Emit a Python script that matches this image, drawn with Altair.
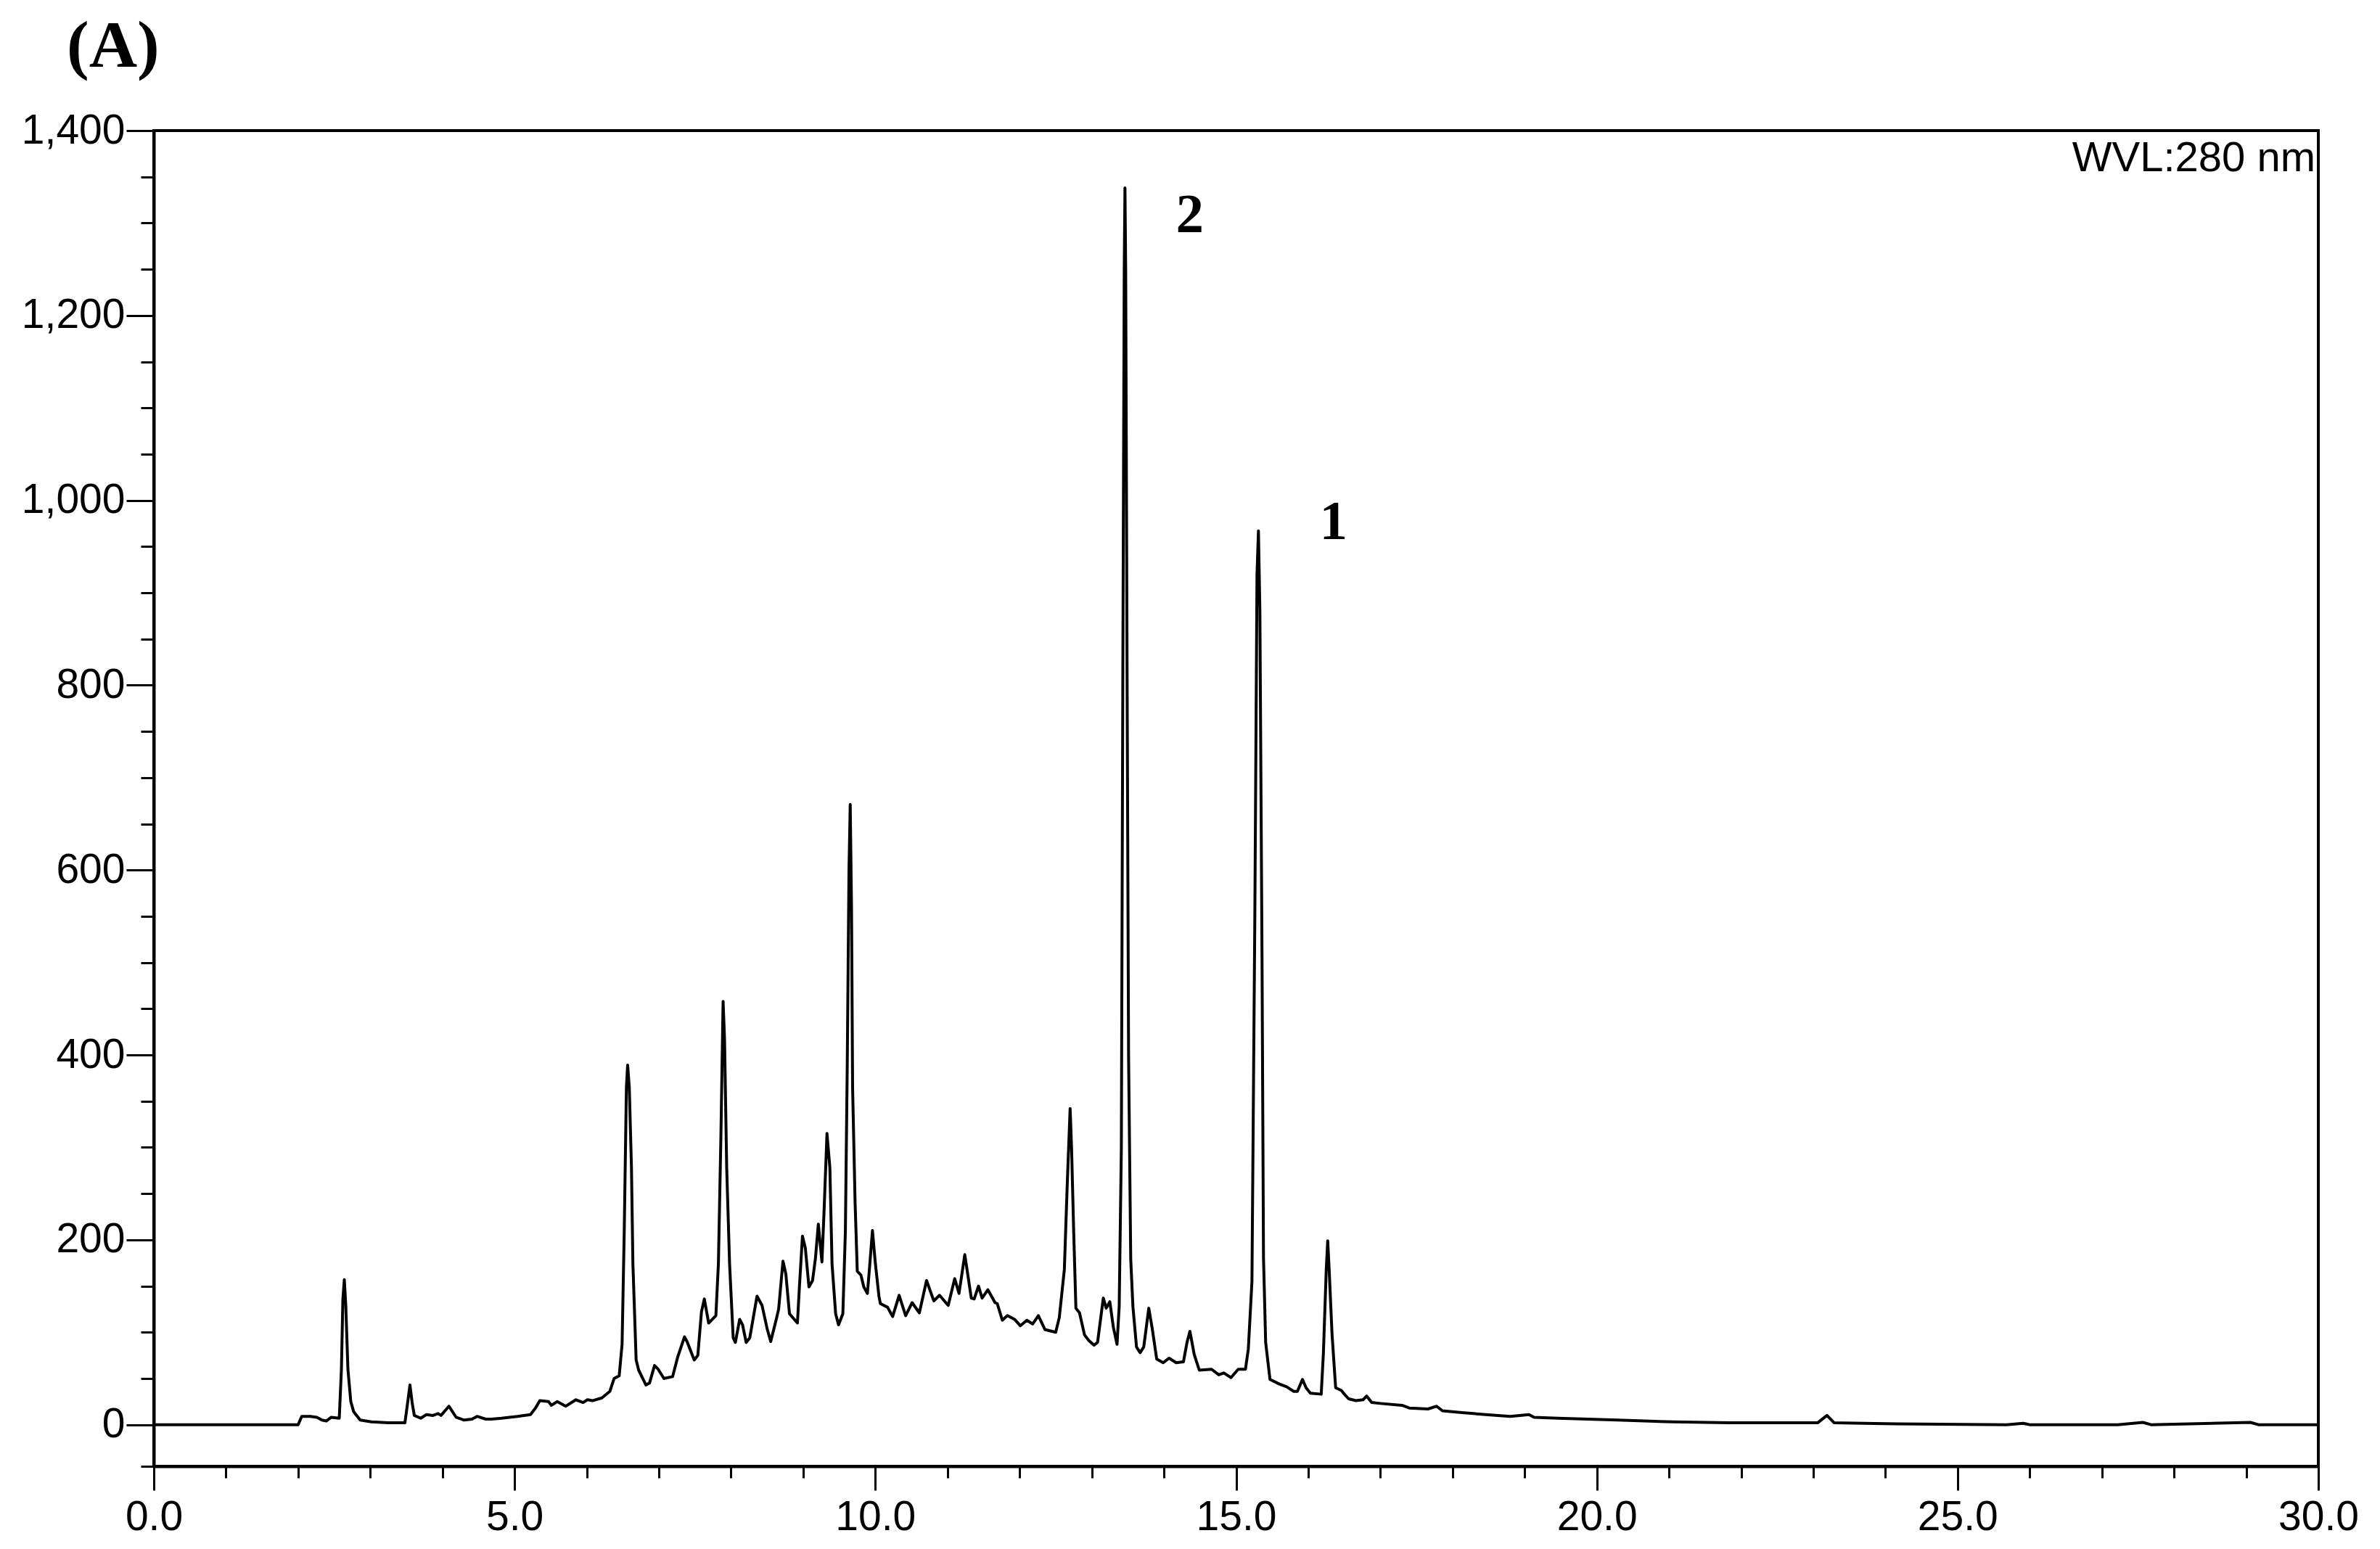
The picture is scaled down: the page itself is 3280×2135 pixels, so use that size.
import altair as alt
import pandas as pd

# Chromatogram trace (retention time in min, signal in mAU)
time_min = [
    0.00, 2.00, 2.05, 2.17, 2.26, 2.33, 2.39, 2.46, 2.57, 2.60, 2.62, 2.64, 2.66, 2.69, 2.73, 2.77, 2.86,
    3.02, 3.25, 3.48, 3.52, 3.55, 3.58, 3.61, 3.70, 3.78, 3.87, 3.94, 3.98, 4.09, 4.19, 4.30, 4.41, 4.48,
    4.60, 4.68, 4.82, 5.04, 5.22, 5.29, 5.35, 5.47, 5.51, 5.59, 5.71, 5.85, 5.95, 6.01, 6.08, 6.21, 6.32,
    6.38, 6.45, 6.49, 6.52, 6.55, 6.567, 6.59, 6.62, 6.64, 6.685, 6.72, 6.82, 6.87, 6.94, 6.99, 7.07, 7.19,
    7.26, 7.355, 7.39, 7.49, 7.54, 7.59, 7.63, 7.69, 7.79, 7.825, 7.86, 7.89, 7.91, 7.94, 7.98, 8.03, 8.06,
    8.12, 8.16, 8.21, 8.26, 8.36, 8.43, 8.50, 8.55, 8.63, 8.66, 8.72, 8.76, 8.81, 8.92, 8.95, 8.99, 9.03,
    9.08, 9.13, 9.17, 9.21, 9.26, 9.29, 9.33, 9.37, 9.40, 9.45, 9.49, 9.55, 9.585, 9.61, 9.635, 9.652,
    9.67, 9.685, 9.72, 9.75, 9.80, 9.84, 9.89, 9.92, 9.96, 10.00, 10.05, 10.07, 10.17, 10.24, 10.33,
    10.42, 10.51, 10.61, 10.71, 10.81, 10.89, 11.01, 11.10, 11.16, 11.24, 11.33, 11.37, 11.43, 11.48,
    11.56, 11.66, 11.69, 11.76, 11.83, 11.93, 12.01, 12.10, 12.18, 12.26, 12.35, 12.50, 12.55, 12.62,
    12.66, 12.70, 12.72, 12.75, 12.78, 12.83, 12.90, 12.96, 13.03, 13.08, 13.16, 13.20, 13.25, 13.30,
    13.35, 13.38, 13.41, 13.43, 13.45, 13.46, 13.47, 13.49, 13.51, 13.54, 13.57, 13.62, 13.67, 13.72,
    13.79, 13.84, 13.90, 13.99, 14.07, 14.17, 14.27, 14.32, 14.36, 14.42, 14.49, 14.66, 14.76, 14.83,
    14.93, 15.03, 15.13, 15.17, 15.22, 15.26, 15.29, 15.31, 15.33, 15.36, 15.38, 15.41, 15.47, 15.60,
    15.70, 15.80, 15.85, 15.92, 15.97, 16.03, 16.18, 16.21, 16.25, 16.27, 16.29, 16.33, 16.38, 16.46,
    16.49, 16.56, 16.66, 16.76, 16.81, 16.88, 17.00, 17.30, 17.40, 17.66, 17.78, 17.86, 18.13, 18.46,
    18.80, 19.06, 19.13, 19.46, 20.29, 21.06, 21.83, 23.06, 23.19, 23.29, 24.14, 25.68, 25.91, 26.00,
    27.22, 27.57, 27.68, 29.06, 29.17, 30.00,
]
signal_mau = [
    0, 0, 9, 9, 8, 5, 4, 8, 7, 60, 135, 157, 130, 60, 25, 14, 5,
    3, 2, 2, 25, 43, 24, 10, 7, 11, 10, 12, 10, 20, 8, 5, 6, 9,
    6, 6, 7, 9, 11, 18, 26, 25, 21, 25, 20, 27, 24, 27, 26, 29, 36,
    50, 53, 87, 209, 365, 389, 365, 278, 174, 70, 59, 43, 45, 64, 60, 50, 52,
    73, 95, 90, 70, 75, 122, 136, 110, 118, 174, 313, 458, 417, 278, 174, 94, 89,
    114, 108, 89, 94, 139, 129, 104, 90, 115, 125, 177, 163, 120, 110, 152, 204, 191,
    149, 156, 180, 217, 176, 232, 315, 278, 174, 120, 108, 120, 209, 382, 600, 671,
    560, 365, 239, 166, 162, 149, 142, 170, 210, 175, 139, 131, 127, 117, 140,
    118, 132, 121, 156, 134, 140, 129, 158, 142, 184, 137, 136, 150, 137,
    146, 132, 131, 113, 118, 114, 107, 113, 109, 118, 103, 100, 116, 168,
    260, 342, 299, 207, 126, 121, 97, 91, 86, 89, 137, 126, 133, 105,
    87, 128, 300, 800, 1250, 1338, 1250, 800, 400, 179, 128, 84, 78, 84,
    126, 103, 71, 67, 72, 67, 68, 89, 101, 76, 59, 60, 54, 56,
    51, 60, 60, 82, 155, 550, 920, 967, 880, 500, 181, 89, 49, 44,
    41, 36, 36, 49, 40, 34, 33, 77, 168, 199, 168, 98, 40, 37,
    34, 28, 26, 27, 31, 24, 23, 21, 18, 17, 20, 15, 13, 11,
    9, 11, 8, 7, 5, 3, 2, 2, 10, 2, 1, 0, 1.5, 0,
    0, 2.5, 0, 2.5, 0, 0,
]

# Axis tick values / labels
x_major_ticks = [0, 5, 10, 15, 20, 25, 30]
x_minor_ticks = [1, 2, 3, 4, 6, 7, 8, 9, 11, 12, 13, 14, 16, 17, 18, 19, 21, 22, 23, 24, 26, 27, 28, 29]
y_major_ticks = [0, 200, 400, 600, 800, 1000, 1200, 1400]
y_minor_ticks = [-45, 0, 50, 100, 150, 200, 250, 300, 350, 400, 450, 500, 550, 600, 650, 700, 750, 800,
                 850, 900, 950, 1000, 1050, 1100, 1150, 1200, 1250, 1300, 1350, 1400]

# Peak labels
peak_labels = ["2", "1"]
peak_label_t = [14.36, 16.35]
peak_label_v = [1290, 958]

# Wavelength annotation
wvl_text = ["WVL:280 nm"]
wvl_t = [30]
wvl_v = [1400]

df = pd.DataFrame({"t": time_min, "v": signal_mau})
labels_df = pd.DataFrame({"t": peak_label_t, "v": peak_label_v, "txt": peak_labels})
wvl_df = pd.DataFrame({"t": wvl_t, "v": wvl_v, "txt": wvl_text})

x_scale = alt.Scale(domain=[0, 30], nice=False, zero=False)
y_scale = alt.Scale(domain=[-45, 1400], nice=False, zero=False)

common = dict(grid=False, title=None, tickColor="black", tickWidth=3, domainColor="black",
              domainWidth=4, labelColor="black", labelFont="Liberation Sans", labelFontSize=57)

x_major = alt.Axis(values=x_major_ticks, format=".1f", orient="bottom", tickSize=33,
                   labelPadding=9, labelFlush=False, labelOverlap=False, **common)
y_major = alt.Axis(values=y_major_ticks, format=",d", orient="left", tickSize=38,
                   labelPadding=2, labelOverlap=False, **common)
x_minor = alt.Axis(values=x_minor_ticks, orient="bottom", labels=False, domain=False, grid=False,
                   title=None, tickSize=16, tickWidth=3, tickColor="black")
y_minor = alt.Axis(values=y_minor_ticks, orient="left", labels=False, domain=False, grid=False,
                   title=None, tickSize=18, tickWidth=3, tickColor="black")

line = alt.Chart(df).mark_line(color="black", strokeWidth=4, strokeJoin="round").encode(
    x=alt.X("t:Q", scale=x_scale, axis=x_major),
    y=alt.Y("v:Q", scale=y_scale, axis=y_major),
)

minor = alt.Chart(df).mark_point(opacity=0).encode(
    x=alt.X("t:Q", scale=x_scale, axis=x_minor),
    y=alt.Y("v:Q", scale=y_scale, axis=y_minor),
)

peaks = alt.Chart(labels_df).mark_text(
    font="Liberation Serif", fontWeight="bold", fontSize=77, color="black",
    align="center", baseline="alphabetic",
).encode(
    x=alt.X("t:Q", scale=x_scale, axis=None),
    y=alt.Y("v:Q", scale=y_scale, axis=None),
    text="txt:N",
)

wvl = alt.Chart(wvl_df).mark_text(
    font="Liberation Sans", fontSize=58, color="black", align="right", baseline="top", dx=-4, dy=10,
).encode(
    x=alt.X("t:Q", scale=x_scale, axis=None),
    y=alt.Y("v:Q", scale=y_scale, axis=None),
    text="txt:N",
)

chart = (
    alt.layer(minor, line, peaks, wvl)
    .resolve_axis(x="independent", y="independent")
    .properties(
        width=2983,
        height=1841,
        autosize=alt.AutoSizeParams(type="none"),
        padding={"left": 204, "top": 172, "right": 77, "bottom": 106},
        background="white",
        title=alt.TitleParams(
            text="(A)", anchor="start", frame="group", dx=-120, offset=40,
            font="Liberation Serif", fontSize=92, fontWeight="bold", color="black",
        ),
    )
    .configure_view(stroke="black", strokeWidth=4)
)

chart.save("out.html", embed_options={"renderer": "svg", "actions": False})
